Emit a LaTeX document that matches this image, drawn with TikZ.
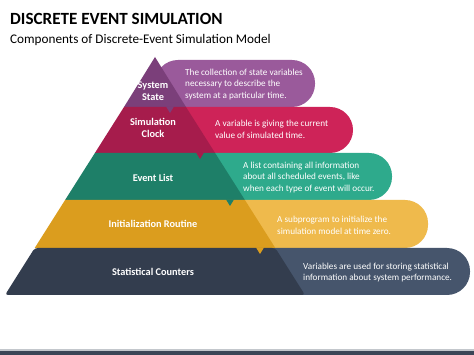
\documentclass[tikz,border=0pt]{standalone}
\usepackage{fontspec}
\setmainfont{Carlito}
\definecolor{sysD}{HTML}{7B3F7A}
\definecolor{sysL}{HTML}{9A5A9B}
\definecolor{clkD}{HTML}{A61C4C}
\definecolor{clkL}{HTML}{CE2358}
\definecolor{evtD}{HTML}{1E7F68}
\definecolor{evtL}{HTML}{2EAA8C}
\definecolor{iniD}{HTML}{DB9D1E}
\definecolor{iniL}{HTML}{EFBA4C}
\definecolor{staD}{HTML}{333D4E}
\definecolor{staL}{HTML}{46556C}
\definecolor{barD}{HTML}{3B4556}
\definecolor{barL}{HTML}{C3C7CC}
\tikzset{
  lbl/.style={text=white, font=\fontsize{10.3}{12}\selectfont\bfseries, align=center, inner sep=0pt},
  desc/.style={text=white, font=\fontsize{9.2}{11.5}\selectfont, align=left, anchor=west, inner sep=0pt},
}
\begin{document}
\begin{tikzpicture}[x=1pt,y=-1pt]
\useasboundingbox (0,0) rectangle (474,355);
\fill[white] (0,0) rectangle (474,355);
% title
\node[anchor=base west, inner sep=0pt, font=\fontsize{17.1}{20}\selectfont\bfseries] (title) at (10,25) {DISCRETE EVENT SIMULATION};
\node[anchor=base west, inner sep=0pt, font=\fontsize{13.2}{16}\selectfont] (subtitle) at (10,43.5) {Components of Discrete-Event Simulation Model};
% tabs (behind pyramid)
\fill[sysL, rounded corners=23pt] (155,60) -- (315,60) -- (315,107) -- (155,107) -- cycle;
\fill[clkL, rounded corners=23pt] (155,107) -- (353,107) -- (353,153) -- (155,153) -- cycle;
\fill[evtL, rounded corners=23pt] (155,153) -- (392,153) -- (392,200) -- (155,200) -- cycle;
\fill[iniL, rounded corners=23pt] (155,200) -- (428,200) -- (428,248) -- (155,248) -- cycle;
\fill[staL, rounded corners=23pt] (155,248) -- (470,248) -- (470,295) -- (155,295) -- cycle;
\fill[white] (150,58) rectangle (156,60);
% pyramid layers
\fill[sysD] (155,57) -- (186,107) -- (124,107) -- cycle;
\fill[clkD] (124,107) -- (186,107) -- (215.1,153) -- (94.9,153) -- cycle;
\fill[evtD] (94.9,153) -- (215.1,153) -- (244.9,200) -- (65.1,200) -- cycle;
\fill[iniD] (65.1,200) -- (244.9,200) -- (275.3,248) -- (34.7,248) -- cycle;
\fill[staD, rounded corners=3pt] (34.7,248) -- (275.3,248) -- (305,295) -- (5,295) -- cycle;
% pointers
\fill[sysD] (166,106.5) -- (174,106.5) -- (170,113) -- cycle;
\fill[clkD] (196,152.5) -- (204,152.5) -- (200,159) -- cycle;
\fill[evtD] (226,199.5) -- (234,199.5) -- (230,206) -- cycle;
\fill[iniD] (256,247.5) -- (264,247.5) -- (260,254) -- cycle;
% labels
\node[lbl] (sys) at (153,91.5) {System\\State};
\node[lbl] (clk) at (153,127.5) {Simulation\\Clock};
\node[lbl] (evt) at (153,178) {Event List};
\node[lbl] (ini) at (153,224) {Initialization Routine};
\node[lbl] (sta) at (153,272) {Statistical Counters};
% descriptions
\node[desc] (dsys) at (185,84.5) {The collection of state variables\\necessary to describe the\\system at a particular time.};
\node[desc] (dclk) at (215,129.5) {A variable is giving the current\\value of simulated time.};
\node[desc] (devt) at (243,177.5) {A list containing all information\\about all scheduled events, like\\when each type of event will occur.};
\node[desc] (dini) at (277,225.5) {A subprogram to initialize the\\simulation model at time zero.};
\node[desc] (dsta) at (303,272.5) {Variables are used for storing statistical\\information about system performance.};
% bottom bar
\fill[barL] (0,349.5) rectangle (474,351);
\fill[barD] (0,351) rectangle (474,355);
\end{tikzpicture}
\end{document}
